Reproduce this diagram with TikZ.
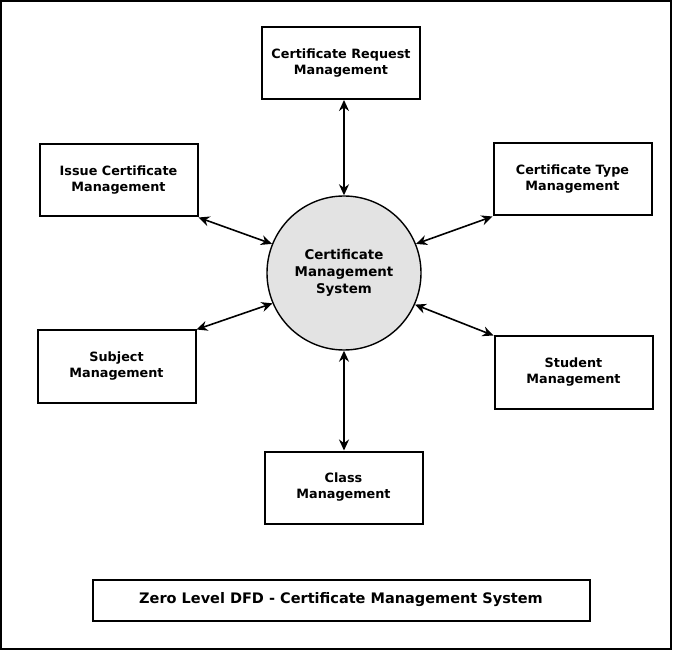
\documentclass[tikz,border=0pt]{standalone}
\usepackage{fontspec}
\setmainfont{DejaVu Sans}
\usetikzlibrary{arrows.meta}
\begin{document}
\begin{tikzpicture}[x=1pt,y=-1pt,
  ent/.style={draw,line width=2pt,minimum width=158pt,minimum height=72pt,align=center,font=\bfseries\fontsize{12.8}{16}\selectfont,inner sep=0pt},
  proc/.style={circle,draw,line width=1.4pt,fill=gray!22,minimum size=154pt,align=center,font=\bfseries\fontsize{13.4}{17}\selectfont,inner sep=0pt},
  flow/.style={line width=1.6pt,{Stealth[length=11pt,width=10pt]}-{Stealth[length=11pt,width=10pt]}},
  titlebox/.style={draw,line width=2pt,minimum width=497pt,minimum height=41pt,font=\bfseries\fontsize{14.5}{17}\selectfont}]
\useasboundingbox (0,0) rectangle (675,652);
\draw[line width=2.2pt] (1,1) rectangle (671,649);
\node[proc] (sys) at (344,273) {Certificate\\Management\\System};
\node[ent] (req) at (341,63) {Certificate Request\\Management};
\node[ent] (iss) at (118.5,180.5) {Issue Certificate\\Management};
\node[ent] (typ) at (572.5,179.5) {Certificate Type\\Management};
\node[ent] (sub) at (116.5,366.5) {Subject\\Management};
\node[ent] (stu) at (573.5,372.5) {Student\\Management};
\node[ent] (cls) at (343.5,487.5) {Class\\Management};
\node[titlebox] (title) at (341,600) {Zero Level DFD - Certificate Management System};
\draw[flow] (req.south -| sys.north) -- (sys.north);
\draw[flow] (iss.south east) -- (sys.158);
\draw[flow] (typ.south west) -- (sys.22);
\draw[flow] (sub.north east) -- (sys.203);
\draw[flow] (stu.north west) -- (sys.336);
\draw[flow] (cls.north -| sys.south) -- (sys.south);
\end{tikzpicture}
\end{document}
